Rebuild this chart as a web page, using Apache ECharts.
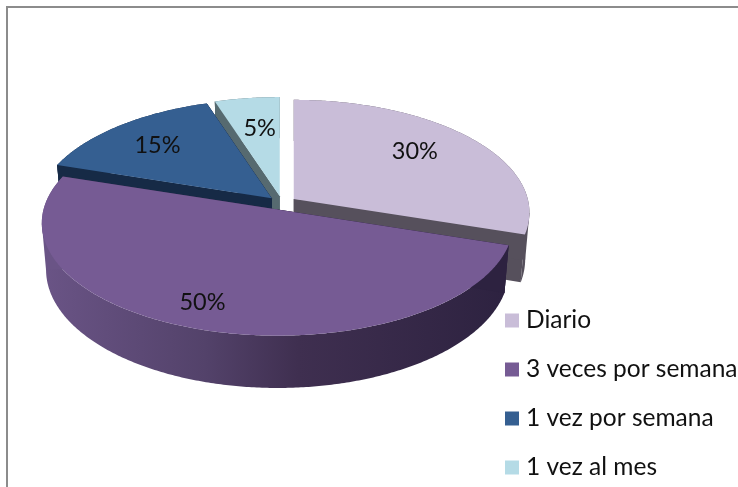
<!DOCTYPE html>
<html>
<head>
<meta charset="utf-8">
<title>Frecuencia</title>
<script src="https://cdn.jsdelivr.net/npm/echarts@6/dist/echarts.min.js"></script>
<style>
  html, body { margin: 0; padding: 0; background: #fff; }
  #chart { width: 738px; height: 487px; }
</style>
</head>
<body>
<div id="chart"></div>
<script>
  var categories = ['Diario', '3 veces por semana', '1 vez por semana', '1 vez al mes']
  var percents = [30, 50, 15, 5]
  var topColors = ['#c9bdd8', '#765b94', '#355f91', '#b5dbe6']
  var wallColors = ['#56505c', '#3a2b4a', '#162a46', '#566a70']

  // geometria del pastel en perspectiva
  var cx = 282, cy = 203
  var rx = 234, ry = 111
  var persp = 0.12
  var depth = 46
  var lowScale = 0.982 // la base se ve un poco mas angosta
  var explode = 14.5
  var labelFracs = [0.67, 0.85, 0.74, 0.65]
  var labelNudge = [[0, -6], [-7, -6], [1, 2], [2, -2]]
  var font = 'Lato, "Open Sans", sans-serif'

  var total = percents.reduce(function (a, b) { return a + b }, 0)

  // punto del plano (u, v) proyectado, v > 0 hacia el frente
  function project(u, v, ox, oy, dy, scale) {
    var s = 1 / (1 - persp * v)
    return [ox + rx * u * s * scale, oy + ry * v * s + dy * s]
  }

  function arc(t0, t1, ox, oy, dy, scale) {
    var pts = []
    var n = Math.max(2, Math.ceil((t1 - t0) / 0.01))
    for (var i = 0; i <= n; i++) {
      var t = t0 + (t1 - t0) * i / n
      pts.push(project(Math.sin(t), -Math.cos(t), ox, oy, dy, scale))
    }
    return pts
  }

  function poly(points, fill) {
    return { type: 'polygon', shape: { points: points }, style: { fill: fill } }
  }

  // indice del punto mas a la izquierda (sign -1) o derecha (sign 1)
  function extreme(pts, sign) {
    var best = 0
    pts.forEach(function (p, i) {
      if (p[0] * sign > pts[best][0] * sign) best = i
    })
    return pts[best]
  }

  function wallFill(index) {
    if (index !== 1) return wallColors[index]
    // lateral del sector grande, se oscurece hacia la derecha
    return new echarts.graphic.LinearGradient(0, 0, 1, 0, [
      { offset: 0, color: '#6a5486' },
      { offset: 0.35, color: '#53426a' },
      { offset: 0.55, color: '#3f2f50' },
      { offset: 1, color: '#2d2240' }
    ])
  }

  function startOf(index) {
    var sum = 0
    for (var i = 0; i < index; i++) sum += percents[i]
    return sum / total * Math.PI * 2
  }

  function renderSlice(index) {
    return function (params, api) {
      var value = api.value(0)
      var t0 = startOf(index)
      var t1 = t0 + value / total * Math.PI * 2
      var mid = (t0 + t1) / 2
      var ox = cx + explode * Math.sin(mid)
      var oy = cy - explode * Math.cos(mid) * ry / rx
      var apex = [ox, oy]
      var apexLow = [ox, oy + depth]
      var top = arc(t0, t1, ox, oy, 0, 1)
      var low = arc(t0, t1, ox, oy, depth, lowScale)
      var first = top[0], last = top[top.length - 1]
      var firstLow = low[0], lastLow = low[low.length - 1]
      var wall = wallColors[index]
      var sideLeft = index === 1 ? '#6a5486' : wall
      var sideRight = index === 1 ? '#2d2240' : wall
      var f = labelFracs[index]
      var lp = project(Math.sin(mid) * f, -Math.cos(mid) * f, ox, oy, 0, 1)
      return {
        type: 'group',
        children: [
          poly([apex, first, firstLow, apexLow], wall),
          poly([apex, last, lastLow, apexLow], wall),
          poly(top.concat(low.slice().reverse()), wallFill(index)),
          // silueta recta entre la cara superior y la base
          poly([extreme(top, -1), extreme(low, -1), apexLow, apex], sideLeft),
          poly([extreme(top, 1), extreme(low, 1), apexLow, apex], sideRight),
          poly([apex].concat(top), topColors[index]),
          {
            type: 'text',
            x: lp[0] + labelNudge[index][0],
            y: lp[1] + labelNudge[index][1],
            style: {
              text: value + '%',
              fill: '#111',
              font: '23.5px ' + font,
              align: 'center',
              verticalAlign: 'middle'
            }
          }
        ]
      }
    }
  }

  var chart = echarts.init(document.getElementById('chart'))

  var series = categories.map(function (name, i) {
    var mid = startOf(i) + percents[i] / total * Math.PI
    return {
      name: name,
      type: 'custom',
      coordinateSystem: 'none',
      // lo de atras se pinta primero
      z: 2 + Math.round((1 - Math.cos(mid)) * 10),
      itemStyle: { color: topColors[i] },
      renderItem: renderSlice(i),
      data: [[percents[i]]]
    }
  })

  chart.setOption({
    animation: false,
    backgroundColor: '#fff',
    legend: {
      data: categories,
      orient: 'vertical',
      left: 505,
      top: 308,
      padding: 0,
      icon: 'rect',
      itemWidth: 14,
      itemHeight: 14,
      itemGap: 24,
      selectedMode: false,
      textStyle: { fontFamily: font, fontSize: 24.5, color: '#111', padding: [6, 0, 0, 2] }
    },
    graphic: [{
      type: 'polyline',
      shape: { points: [[7, 487], [7, 7], [738, 7]] },
      style: { stroke: '#8c8c8c', lineWidth: 2, fill: null }
    }],
    series: series
  })
</script>
</body>
</html>
